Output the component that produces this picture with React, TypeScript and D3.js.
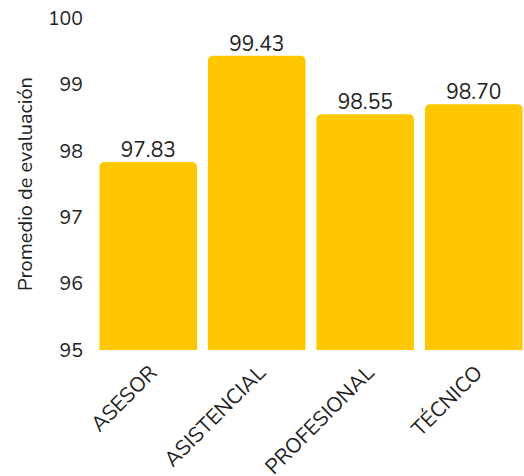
import React from "react";
import * as d3 from "d3";

const categories = ["ASESOR", "ASISTENCIAL", "PROFESIONAL", "TÉCNICO"];
const values = [97.83, 99.43, 98.55, 98.7];
const yTicks = [95, 96, 97, 98, 99, 100];

const W = 524;
const H = 476;
const FONT = "Nunito, 'Open Sans', Lato, sans-serif";

function topRoundedRect(x: number, y: number, w: number, h: number, r: number) {
  const p = d3.path();
  p.moveTo(x, y + h);
  p.lineTo(x, y + r);
  p.arcTo(x, y, x + r, y, r);
  p.lineTo(x + w - r, y);
  p.arcTo(x + w, y, x + w, y + r, r);
  p.lineTo(x + w, y + h);
  p.closePath();
  return p.toString();
}

export default function App() {
  const x = d3.scaleBand<string>().domain(categories).range([94, 528]).paddingInner(0.1).paddingOuter(0.05);
  const y = d3.scaleLinear().domain([95, 100]).range([350, 18]);
  return (
    <svg width={W} height={H} style={{ position: "absolute", left: 0, top: 0 }} fontFamily={FONT}>
      <text
        transform={`translate(32, 184) rotate(-90)`}
        textAnchor="middle"
        fontSize={20}
        fill="#222"
      >
        Promedio de evaluación
      </text>
      {yTicks.map((t) => (
        <text key={t} x={83} y={y(t)} dy="0.35em" textAnchor="end" fontSize={19.5} fill="#222">
          {t}
        </text>
      ))}
      {categories.map((c, i) => {
        const bx = x(c)!;
        const bw = x.bandwidth();
        const by = y(values[i]);
        return (
          <g key={c}>
            <path d={topRoundedRect(bx, by, bw, y(95) - by, 5)} fill="#FFC700" />
            <text x={bx + bw / 2} y={by - 5} textAnchor="middle" fontSize={21} fill="#222">
              {values[i].toFixed(2)}
            </text>
            <text
              transform={`translate(${bx + bw / 2 + 10}, 374) rotate(-45)`}
              textAnchor="end"
              fontSize={21}
              fill="#222"
            >
              {c}
            </text>
          </g>
        );
      })}
    </svg>
  );
}
